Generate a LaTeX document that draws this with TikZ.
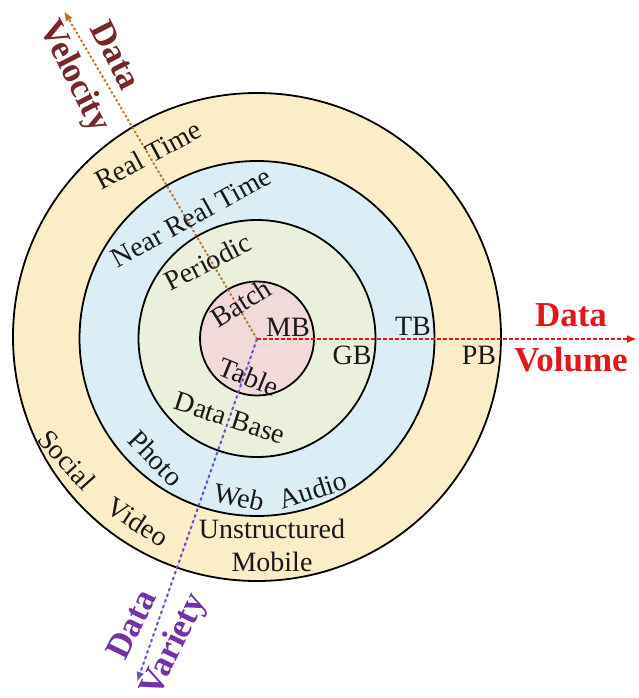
\documentclass[tikz,border=0pt]{standalone}
\usepackage{fontspec}
\setmainfont{Liberation Serif}
\usetikzlibrary{arrows.meta}

\definecolor{ringOuter}{HTML}{FCEDC9}
\definecolor{ringBlue}{HTML}{DCEEF5}
\definecolor{ringGreen}{HTML}{EAF0DC}
\definecolor{ringPink}{HTML}{F2DADA}
\definecolor{velLine}{HTML}{B5722F}
\definecolor{velText}{HTML}{75272A}
\definecolor{volRed}{HTML}{E3161C}
\definecolor{varLine}{HTML}{6A4EC6}
\definecolor{varText}{HTML}{7232A8}

\tikzset{
  ring/.style={circle, draw=black, line width=1.8pt, inner sep=0pt},
  lab/.style={font=\fontsize{28}{30}\selectfont, inner sep=0pt, text=black!90},
  axislab/.style={font=\fontsize{35}{45}\selectfont\bfseries, align=center, inner sep=0pt},
  axisline/.style={line width=2pt, -{Latex[length=10pt,width=8pt]}},
}

\begin{document}
\begin{tikzpicture}[x=1pt,y=1pt]
\useasboundingbox (0,0) rectangle (639,-698);
\fill[white] (0,0) rectangle (639,-698);

% concentric rings, outermost first
\node[ring, fill=ringOuter, minimum size=488pt] (outer) at (257,-337) {};
\node[ring, fill=ringBlue,  minimum size=355pt] (blue)  at (257,-338.5) {};
\node[ring, fill=ringGreen, minimum size=237pt] (green) at (257,-338.5) {};
\node[ring, fill=ringPink,  minimum size=114pt] (pink)  at (257,-338.5) {};

% the three axes
\coordinate (o) at (257,-339);
\coordinate (velTip) at (64,-11);
\coordinate (volTip) at (637,-339);
\coordinate (varTip) at (137,-682);

\draw[axisline, draw=velLine, fill=velLine, dash pattern=on 2pt off 2.6pt] (o) -- (velTip);
\draw[axisline, draw=volRed, fill=volRed, dash pattern=on 4pt off 2pt] (o) -- (volTip);
\draw[axisline, draw=varLine, fill=varLine, dash pattern=on 3pt off 3pt] (o) -- (varTip);

% axis titles
\node[axislab, text=velText, rotate=-63] (velName) at (93,-67) {Data\\Velocity};
\node[axislab, text=volRed] (volName) at (571,-338) {Data\\Volume};
\node[axislab, text=varText, rotate=64] (varName) at (155,-636) {Data\\Variety};

% velocity scale
\node[lab, rotate=28] (rt)   at (148,-155) {Real Time};
\node[lab, rotate=29] (nrt)  at (191,-217) {Near Real Time};
\node[lab, rotate=27] (per)  at (208,-262) {Periodic};
\node[lab, rotate=32] (bat)  at (241,-303) {Batch};

% volume scale
\node[lab] (mb) at (288,-327) {MB};
\node[lab] (gb) at (352,-355) {GB};
\node[lab] (tb) at (413,-326) {TB};
\node[lab] (pb) at (479,-355) {PB};

% variety scale
\node[lab, rotate=-22] (tab)  at (249,-377) {Table};
\node[lab, rotate=-18] (db)   at (230,-418) {Data Base};
\node[lab, rotate=-46] (pho)  at (156,-458) {Photo};
\node[lab, rotate=-12] (web)  at (239,-497) {Web};
\node[lab, rotate=18]  (aud)  at (313,-490) {Audio};
\node[lab, rotate=-48] (soc)  at (67,-460)  {Social};
\node[lab, rotate=-33] (vid)  at (138,-522) {Video};
\node[lab] (uns) at (272,-529) {Unstructured};
\node[lab] (mob) at (272,-562) {Mobile};
\end{tikzpicture}
\end{document}
